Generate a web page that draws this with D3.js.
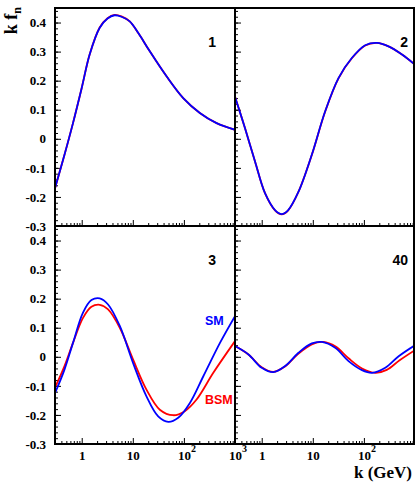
<!DOCTYPE html>
<html>
<head>
<meta charset="utf-8">
<script src="https://cdn.jsdelivr.net/npm/d3@7"></script>
<style>
body{margin:0;background:#fff}
text{font-family:"Liberation Serif","Times New Roman",serif;font-weight:bold}
.lab{font-family:"Liberation Sans",Arial,sans-serif}
</style>
</head>
<body>
<svg id="chart" width="415" height="482"></svg>
<script>
// k values (GeV) and k*f_n
const k1 = [0.3, 0.46, 0.675, 1.0, 1.43, 2.25, 3.2, 4.4, 6.0, 8.7, 13, 21.5, 45.7, 97, 205, 436, 1000];
const sm1 = [-0.17, -0.055, 0.054, 0.175, 0.29, 0.382, 0.414, 0.425, 0.42, 0.404, 0.362, 0.301, 0.215, 0.14, 0.089, 0.054, 0.031];
const bsm1 = [-0.17, -0.055, 0.054, 0.175, 0.29, 0.383, 0.415, 0.426, 0.421, 0.404, 0.362, 0.301, 0.215, 0.14, 0.089, 0.054, 0.031];

const k2 = [0.3, 0.47, 0.74, 1.16, 1.82, 2.46, 3.3, 5.25, 9.55, 17.4, 31.8, 58, 106, 180, 303, 556, 1000];
const sm2 = [0.145, 0.037, -0.078, -0.187, -0.245, -0.259, -0.245, -0.182, -0.055, 0.094, 0.209, 0.278, 0.322, 0.33, 0.318, 0.29, 0.255];
const bsm2 = [0.145, 0.037, -0.078, -0.187, -0.246, -0.26, -0.246, -0.182, -0.056, 0.093, 0.208, 0.277, 0.321, 0.33, 0.318, 0.29, 0.255];

const k3 = [0.3, 0.46, 0.675, 1.06, 1.55, 2.25, 3.28, 5.56, 10.1, 18.5, 31.4, 49.5, 77.4, 131, 240, 508, 1000];
const sm3 = [-0.125, -0.044, 0.048, 0.152, 0.195, 0.201, 0.18, 0.106, -0.021, -0.136, -0.205, -0.224, -0.21, -0.159, -0.067, 0.048, 0.14];
const k3b = [0.3, 0.46, 0.675, 1.06, 1.55, 2.25, 3.28, 5.56, 10.1, 18.5, 33.8, 61.8, 104, 177, 376, 1000];
const bsm3 = [-0.106, -0.032, 0.048, 0.134, 0.172, 0.179, 0.163, 0.1, -0.009, -0.113, -0.182, -0.201, -0.187, -0.147, -0.055, 0.054];

const k4 = [0.3, 0.55, 1, 1.69, 2.87, 5.25, 9.55, 15, 27.4, 50, 91.6, 144, 262, 479, 1000];
const sm4 = [0.037, 0.008, -0.038, -0.053, -0.032, 0.014, 0.046, 0.051, 0.031, -0.015, -0.046, -0.055, -0.038, 0.002, 0.04];
const k4b = [0.3, 0.55, 1, 1.69, 2.87, 5.25, 9.55, 16, 28, 50, 92, 167, 280, 500, 1000];
const bsm4 = [0.037, 0.008, -0.036, -0.052, -0.033, 0.011, 0.043, 0.051, 0.035, -0.005, -0.04, -0.055, -0.045, -0.012, 0.023];

const panelNames = ["1", "2", "3", "40"];
const yTicks = [-0.3, -0.2, -0.1, 0, 0.1, 0.2, 0.3, 0.4];
const yTickLabels = ["-0.3", "-0.2", "-0.1", "0", "0.1", "0.2", "0.3", "0.4"];
const xTicks = [1, 10, 100, 1000];
const xTickBase = ["1", "10", "10", "10"];
const xTickExp = ["", "", "2", "3"];

const kDomain = [0.3, 1000];
const fnDomain = [-0.3, 0.45];

const svg = d3.select("#chart");
const cols = [55, 235];
const rows = [[8, 226], [226, 444]];
const pw = 180;

const panels = [
  {c: 0, r: 0, name: panelNames[0], sm: [k1, sm1], bsm: [k1, bsm1]},
  {c: 1, r: 0, name: panelNames[1], sm: [k2, sm2], bsm: [k2, bsm2]},
  {c: 0, r: 1, name: panelNames[2], sm: [k3, sm3], bsm: [k3b, bsm3]},
  {c: 1, r: 1, name: panelNames[3], sm: [k4, sm4], bsm: [k4b, bsm4]}
];

const minorY = d3.range(-15, 23).map(i => i * 0.02);

panels.forEach((p, i) => {
  const x0 = cols[p.c], yTop = rows[p.r][0], yBot = rows[p.r][1];
  const w = p.c === 1 ? pw - 1 : pw;
  const x = d3.scaleLog().domain(kDomain).range([x0, x0 + pw]);
  const y = d3.scaleLinear().domain(fnDomain).range([yBot, yTop]);
  const g = svg.append("g");

  g.append("clipPath").attr("id", "clip" + i)
    .append("rect").attr("x", x0).attr("y", yTop).attr("width", w).attr("height", yBot - yTop);

  // y axis, ticks inside
  const ya = g.append("g").attr("transform", `translate(${x0},0)`);
  ya.append("g").call(d3.axisLeft(y).tickValues(minorY).tickSize(-3).tickFormat(""));
  ya.append("g").call(d3.axisLeft(y).tickValues(yTicks).tickSize(-6).tickPadding(9)
    .tickFormat((d, j) => p.c === 0 ? yTickLabels[j] : ""));
  ya.selectAll(".domain").remove();
  ya.selectAll("text").attr("font-size", 13).attr("font-family", null);

  // x axis, ticks inside
  const minorX = x.ticks().filter(d => Math.abs(Math.log10(d) - Math.round(Math.log10(d))) > 1e-6);
  const xa = g.append("g").attr("transform", `translate(0,${yBot})`);
  xa.append("g").call(d3.axisBottom(x).tickValues(minorX).tickSize(-3).tickFormat(""));
  const maj = xa.append("g").call(d3.axisBottom(x).tickValues(xTicks).tickSize(-6).tickPadding(6.5).tickFormat(""));
  xa.selectAll(".domain").remove();
  if (p.r === 1) {
    maj.selectAll(".tick text").each(function (d, j) {
      if (p.c === 1 && j === 3) return;
      const t = d3.select(this).attr("font-size", 13).attr("font-family", null);
      if (xTickExp[j] === "") {
        t.text(xTickBase[j]);
      } else {
        t.attr("text-anchor", "start").attr("x", -6.5);
        t.append("tspan").text(xTickBase[j]);
        t.append("tspan").attr("dy", -8).attr("font-size", 10).text(xTickExp[j]);
      }
    });
  }
  g.selectAll(".tick line").attr("stroke", "#000").attr("stroke-width", 1);

  // curves
  const line = d3.line().x(d => x(d[0])).y(d => y(d[1])).curve(d3.curveCatmullRom.alpha(0.5));
  const curves = g.append("g").attr("clip-path", `url(#clip${i})`);
  [[p.bsm, "#ff0000"], [p.sm, "#0000ff"]].forEach(([s, col]) => {
    curves.append("path")
      .attr("d", line(s[0].map((k, j) => [k, s[1][j]])))
      .attr("fill", "none").attr("stroke", col).attr("stroke-width", 1.8);
  });

  // frame
  g.append("rect").attr("x", x0).attr("y", yTop).attr("width", w).attr("height", yBot - yTop)
    .attr("fill", "none").attr("stroke", "#000").attr("stroke-width", 2);

  g.append("text").attr("class", "lab").attr("x", x0 + (p.c === 0 ? 161 : 173)).attr("y", yTop + 38.5)
    .attr("text-anchor", "end").attr("font-size", 14).text(p.name);
});

// legend labels in panel 3
svg.append("text").attr("class", "lab").attr("x", 205).attr("y", 325).attr("font-size", 12.5)
  .attr("fill", "#0000ff").text("SM");
svg.append("text").attr("class", "lab").attr("x", 205).attr("y", 403.5).attr("font-size", 12.5)
  .attr("fill", "#ff0000").text("BSM");

// axis titles
const yt = svg.append("text").attr("transform", "translate(17,7) rotate(-90)")
  .attr("text-anchor", "end").attr("font-size", 18);
yt.append("tspan").text("k f");
yt.append("tspan").attr("dy", 4).attr("font-size", 12).text("n");

svg.append("text").attr("x", 412).attr("y", 478).attr("text-anchor", "end")
  .attr("font-size", 17).text("k (GeV)");
</script>
</body>
</html>
